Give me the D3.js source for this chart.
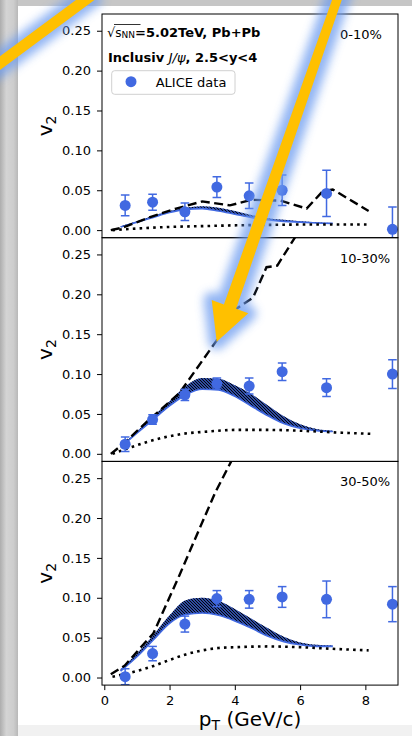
<!DOCTYPE html>
<html>
<head>
<meta charset="utf-8">
<script src="https://cdn.jsdelivr.net/npm/d3@7"></script>
<style>
  body { margin: 0; background: #c6c6c6; }
  svg { display: block; font-family: "DejaVu Sans", sans-serif; }
</style>
</head>
<body>
<div id="chart"></div>
<script>
// ALICE data points (same pT bins in every centrality class)
const ptData = [0.64, 1.48, 2.47, 3.45, 4.44, 5.45, 6.81, 8.83];
const centralities = ['0-10%', '10-30%', '30-50%'];

const v2Data0010 = [0.031, 0.035, 0.023, 0.054, 0.043, 0.050, 0.046, 0.001];
const err0010    = [0.013, 0.010, 0.011, 0.013, 0.016, 0.019, 0.029, 0.028];
const v2Data1030 = [0.012, 0.043, 0.074, 0.088, 0.085, 0.103, 0.083, 0.100];
const err1030    = [0.009, 0.006, 0.007, 0.007, 0.010, 0.011, 0.011, 0.018];
const v2Data3050 = [0.001, 0.030, 0.067, 0.099, 0.098, 0.101, 0.098, 0.092];
const err3050    = [0.010, 0.009, 0.010, 0.010, 0.011, 0.013, 0.023, 0.022];

// model band (blue, hatched)
const bandPt   = [0.5, 1.0, 1.5, 2.0, 2.5, 3.0, 3.5, 4.0, 4.5, 5.0, 5.5, 6.0, 6.5, 7.0];
const band0010Lo = [0.004, 0.010, 0.016, 0.022, 0.026, 0.027, 0.024, 0.020, 0.016, 0.013, 0.011, 0.010, 0.009, 0.0085];
const band0010Hi = [0.005, 0.011, 0.018, 0.024, 0.028, 0.030, 0.028, 0.024, 0.019, 0.015, 0.013, 0.011, 0.010, 0.009];
const band1030Lo = [0.008, 0.026, 0.043, 0.060, 0.074, 0.081, 0.080, 0.072, 0.060, 0.048, 0.038, 0.032, 0.029, 0.028];
const band1030Hi = [0.009, 0.028, 0.047, 0.066, 0.085, 0.095, 0.094, 0.086, 0.075, 0.061, 0.047, 0.037, 0.031, 0.029];
const band3050Lo = [0.008, 0.026, 0.047, 0.068, 0.079, 0.081, 0.078, 0.071, 0.062, 0.052, 0.045, 0.041, 0.039, 0.039];
const band3050Hi = [0.010, 0.030, 0.053, 0.078, 0.097, 0.100, 0.096, 0.086, 0.074, 0.062, 0.051, 0.044, 0.041, 0.040];

// dashed model curves
const dashed0010Pt = [0.2, 0.55, 1.45, 2.2, 3.0, 3.85, 4.5, 5.4, 6.2, 6.7, 7.0, 8.1];
const dashed0010V2 = [0.0, 0.003, 0.017, 0.027, 0.036, 0.031, 0.038, 0.037, 0.027, 0.049, 0.051, 0.024];
const dashed1030Pt = [0.2, 0.6, 1.3, 2.3, 3.44, 4.05, 4.56, 4.97, 5.3, 5.9];
const dashed1030V2 = [0.0, 0.013, 0.040, 0.076, 0.142, 0.182, 0.196, 0.234, 0.236, 0.275];
const dashed3050Pt = [0.2, 0.63, 1.1, 1.5, 2.3, 2.9, 3.4, 3.9];
const dashed3050V2 = [0.004, 0.015, 0.037, 0.055, 0.128, 0.185, 0.232, 0.272];

// dotted model curves
const dotted0010Pt = [0.25, 1.0, 2.0, 3.0, 4.0, 5.0, 6.0, 7.0, 8.1];
const dotted0010V2 = [0.0, 0.002, 0.004, 0.005, 0.006, 0.0065, 0.007, 0.007, 0.007];
const dotted1030Pt = [0.25, 0.8, 1.4, 2.4, 3.2, 4.0, 5.0, 6.0, 7.0, 8.2];
const dotted1030V2 = [0.0, 0.008, 0.016, 0.025, 0.028, 0.030, 0.030, 0.029, 0.027, 0.025];
const dotted3050Pt = [0.25, 0.8, 1.4, 2.0, 2.5, 3.0, 3.5, 4.0, 5.0, 6.0, 7.0, 8.1];
const dotted3050V2 = [0.001, 0.006, 0.013, 0.022, 0.029, 0.034, 0.037, 0.038, 0.039, 0.038, 0.036, 0.034];

const yTicks = [0, 0.05, 0.10, 0.15, 0.20, 0.25];
const xTicks = [0, 2, 4, 6, 8];

const BLUE = '#4169e1',
      LEFT = 102, RIGHT = 398, TOP = 14, PANEL_H = 223.7;

const panels = [
  { label: centralities[0], v2: v2Data0010, err: err0010, lo: band0010Lo, hi: band0010Hi,
    dashed: [dashed0010Pt, dashed0010V2], dotted: [dotted0010Pt, dotted0010V2] },
  { label: centralities[1], v2: v2Data1030, err: err1030, lo: band1030Lo, hi: band1030Hi,
    dashed: [dashed1030Pt, dashed1030V2], dotted: [dotted1030Pt, dotted1030V2] },
  { label: centralities[2], v2: v2Data3050, err: err3050, lo: band3050Lo, hi: band3050Hi,
    dashed: [dashed3050Pt, dashed3050V2], dotted: [dotted3050Pt, dotted3050V2] }
];

const svg = d3.select('#chart').append('svg').attr('width', 412).attr('height', 736);
const defs = svg.append('defs');

const grad = defs.append('linearGradient').attr('id', 'edge');
[[0, '#adadad'], [0.35, '#d4d4d4'], [0.75, '#cdcdcd'], [1, '#b8b8b8']].forEach(([o, c]) =>
  grad.append('stop').attr('offset', o).attr('stop-color', c));

defs.append('filter').attr('id', 'glow')
  .attr('x', '-50%').attr('y', '-50%').attr('width', '200%').attr('height', '200%')
  .append('feGaussianBlur').attr('stdDeviation', 5);

const hatch = defs.append('pattern').attr('id', 'hatch')
  .attr('patternUnits', 'userSpaceOnUse').attr('width', 3).attr('height', 3);
hatch.append('path').attr('d', 'M0,0L3,3M-1,2L1,4M2,-1L4,1')
  .attr('stroke', '#000').attr('stroke-width', 1.1);

// page background: grey frame, white card, light strip at the bottom
svg.append('rect').attr('width', 412).attr('height', 736).attr('fill', '#c6c6c6');
svg.append('rect').attr('width', 18).attr('height', 736).attr('fill', 'url(#edge)');
svg.append('rect').attr('x', 18).attr('y', 6).attr('width', 394).attr('height', 719).attr('fill', '#fff');
svg.append('rect').attr('x', 18).attr('y', 725).attr('width', 394).attr('height', 11).attr('fill', '#f1f1f1');

const x = d3.scaleLinear().domain([-0.07, 9.0]).range([LEFT, RIGHT]);

panels.forEach((p, i) => {
  const top = TOP + i * PANEL_H, bottom = top + PANEL_H;
  const y = d3.scaleLinear().domain([-0.0095, 0.271]).range([bottom, top]);

  defs.append('clipPath').attr('id', 'clip' + i).append('rect')
    .attr('x', LEFT).attr('y', top).attr('width', RIGHT - LEFT).attr('height', PANEL_H);

  const body = svg.append('g').attr('clip-path', `url(#clip${i})`);

  const area = d3.area()
    .x((d, k) => x(bandPt[k]))
    .y0((d, k) => y(p.lo[k]))
    .y1((d, k) => y(p.hi[k]))
    .curve(d3.curveMonotoneX);

  body.append('path').datum(bandPt).attr('d', area).attr('fill', BLUE);
  body.append('path').datum(bandPt).attr('d', area).attr('fill', 'url(#hatch)');
  body.append('path').datum(bandPt)
    .attr('d', d3.line().x((d, k) => x(bandPt[k])).y((d, k) => y(p.lo[k])).curve(d3.curveMonotoneX))
    .attr('fill', 'none').attr('stroke', BLUE).attr('stroke-width', 1.6);

  body.append('path').datum(p.dotted[0])
    .attr('d', d3.line().x(d => x(d)).y((d, k) => y(p.dotted[1][k])).curve(d3.curveMonotoneX))
    .attr('fill', 'none').attr('stroke', '#000').attr('stroke-width', 2.6)
    .attr('stroke-dasharray', '2.6,4.2');

  body.append('path').datum(p.dashed[0])
    .attr('d', d3.line().x(d => x(d)).y((d, k) => y(p.dashed[1][k])))
    .attr('fill', 'none').attr('stroke', '#000').attr('stroke-width', 2.4)
    .attr('stroke-dasharray', '9,4.5');

  // error bars and markers
  const pts = body.selectAll('g.pt').data(ptData).enter().append('g').attr('class', 'pt');
  pts.append('line')
    .attr('x1', d => x(d)).attr('x2', d => x(d))
    .attr('y1', (d, k) => y(p.v2[k] - p.err[k])).attr('y2', (d, k) => y(p.v2[k] + p.err[k]))
    .attr('stroke', BLUE).attr('stroke-width', 1.5);
  [-1, 1].forEach(s => pts.append('line')
    .attr('x1', d => x(d) - 4.3).attr('x2', d => x(d) + 4.3)
    .attr('y1', (d, k) => y(p.v2[k] + s * p.err[k])).attr('y2', (d, k) => y(p.v2[k] + s * p.err[k]))
    .attr('stroke', BLUE).attr('stroke-width', 1.5));
  pts.append('circle')
    .attr('cx', d => x(d)).attr('cy', (d, k) => y(p.v2[k])).attr('r', 5.5)
    .attr('fill', BLUE);

  const yAxis = svg.append('g').attr('transform', `translate(${LEFT},0)`)
    .call(d3.axisLeft(y).tickValues(yTicks).tickFormat(d3.format('.2f')).tickSize(5).tickPadding(6));
  yAxis.select('.domain').remove();
  yAxis.attr('font-family', null).attr('font-size', 13);
  yAxis.selectAll('line').attr('stroke', '#000').attr('stroke-width', 1);
  yAxis.selectAll('text').attr('fill', '#000');

  svg.append('text').attr('x', 340).attr('y', top + 25).attr('font-size', 13).text(p.label);

  const yl = svg.append('text')
    .attr('transform', `translate(52,${(top + bottom) / 2}) rotate(-90)`)
    .attr('text-anchor', 'middle').attr('font-size', 20);
  yl.append('tspan').text('v');
  yl.append('tspan').attr('font-size', 14).attr('dy', 4).text('2');

  svg.append('rect')
    .attr('x', LEFT).attr('y', top).attr('width', RIGHT - LEFT).attr('height', PANEL_H)
    .attr('fill', 'none').attr('stroke', '#000').attr('stroke-width', 1);

  if (i === panels.length - 1) {
    const xAxis = svg.append('g').attr('transform', `translate(0,${bottom})`)
      .call(d3.axisBottom(x).tickValues(xTicks).tickFormat(d3.format('d')).tickSize(5).tickPadding(6));
    xAxis.select('.domain').remove();
    xAxis.attr('font-family', null).attr('font-size', 13);
    xAxis.selectAll('line').attr('stroke', '#000');
    xAxis.selectAll('text').attr('fill', '#000');
  }
});

// x label
const xl = svg.append('text').attr('x', (LEFT + RIGHT) / 2).attr('y', 726)
  .attr('text-anchor', 'middle').attr('font-size', 20);
xl.append('tspan').text('p');
xl.append('tspan').attr('font-size', 14).attr('dy', 4).text('T');
xl.append('tspan').attr('dy', -4).text(' (GeV/c)');

// header text
const t1 = svg.append('text').attr('x', 107).attr('y', 37).attr('font-size', 13);
t1.append('tspan').text('√');
t1.append('tspan').attr('font-size', 12).text('s');
t1.append('tspan').attr('font-size', 9).attr('dy', 1).text('NN');
t1.append('tspan').attr('font-weight', 'bold').attr('dy', -1).text('=5.02TeV, Pb+Pb');
svg.append('line').attr('x1', 114).attr('x2', 140.5).attr('y1', 24.5).attr('y2', 24.5)
  .attr('stroke', '#000').attr('stroke-width', 0.8);

const t2 = svg.append('text').attr('x', 108).attr('y', 61.5).attr('font-size', 13).attr('font-weight', 'bold');
t2.append('tspan').text('Inclusiv ');
t2.append('tspan').attr('font-weight', 'normal').attr('font-style', 'italic').text('J/ψ');
t2.append('tspan').text(', 2.5<y<4');

// legend
svg.append('rect').attr('x', 111.7).attr('y', 70.7).attr('width', 123.3).attr('height', 23.6)
  .attr('rx', 3).attr('fill', '#fff').attr('fill-opacity', 0.8)
  .attr('stroke', '#d0d0d0').attr('stroke-width', 1);
svg.append('circle').attr('cx', 131).attr('cy', 81.7).attr('r', 5.5).attr('fill', BLUE);
svg.append('text').attr('x', 155.7).attr('y', 86.5).attr('font-size', 13).text('ALICE data');

// yellow annotation arrows with a blue glow
const YELLOW = '#ffc000', GLOW = '#6d9cf0';
const band = [[-12, 72], [96, -8]];
svg.append('line').attr('x1', band[0][0]).attr('y1', band[0][1]).attr('x2', band[1][0]).attr('y2', band[1][1])
  .attr('stroke', GLOW).attr('stroke-width', 24).attr('opacity', 0.75).attr('filter', 'url(#glow)');
svg.append('line').attr('x1', band[0][0]).attr('y1', band[0][1]).attr('x2', band[1][0]).attr('y2', band[1][1])
  .attr('stroke', YELLOW).attr('stroke-width', 11);

const arrowPts = [[337, -14], [345.5, -11], [236.1, 308.8], [248.3, 313.3], [216.7, 341.7],
                  [211.7, 300], [223.9, 304.5]];
svg.append('polygon').attr('points', arrowPts.join(' '))
  .attr('fill', GLOW).attr('stroke', GLOW).attr('stroke-width', 16).attr('stroke-linejoin', 'round')
  .attr('opacity', 0.75).attr('filter', 'url(#glow)');
svg.append('polygon').attr('points', arrowPts.join(' ')).attr('fill', YELLOW);
</script>
</body>
</html>
